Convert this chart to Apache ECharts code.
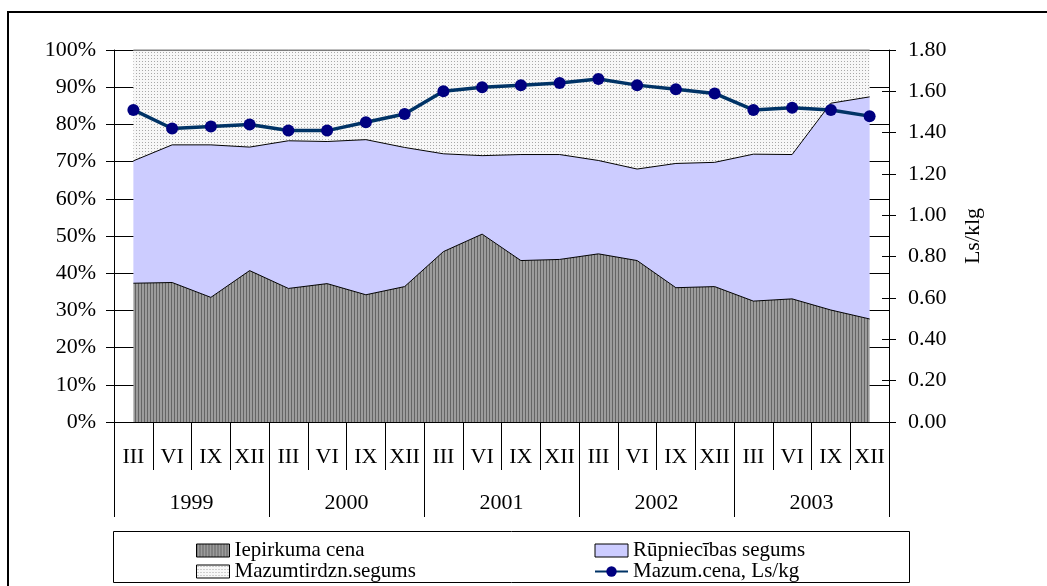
<!DOCTYPE html>
<html>
<head>
<meta charset="utf-8">
<script src="https://cdn.jsdelivr.net/npm/echarts@6/dist/echarts.min.js"></script>
<style>
html, body { margin: 0; padding: 0; background: #fff; }
#chart { width: 1047px; height: 586px; }
</style>
</head>
<body>
<div id="chart"></div>
<script>
// kvartāli un gadi
var quarters = ["III", "VI", "IX", "XII", "III", "VI", "IX", "XII", "III", "VI", "IX", "XII", "III", "VI", "IX", "XII", "III", "VI", "IX", "XII"];
var years = ["1999", "2000", "2001", "2002", "2003"];

// daļas cenā, %
var iepirkumaCena = [37.3, 37.5, 33.5, 40.7, 35.9, 37.2, 34.2, 36.4, 45.8, 50.5, 43.4, 43.7, 45.2, 43.4, 36.1, 36.4, 32.5, 33.1, 30.1, 27.7];
var rupniecibasSegums = [32.9, 37.0, 41.0, 33.2, 39.7, 38.2, 41.7, 37.4, 26.3, 21.1, 28.5, 28.2, 25.1, 24.6, 33.4, 33.4, 39.5, 38.8, 55.6, 59.7];
var mazumtirdznSegums = [29.8, 25.5, 25.5, 26.1, 24.4, 24.6, 24.1, 26.2, 27.9, 28.4, 28.1, 28.1, 29.7, 32.0, 30.5, 30.2, 28.0, 28.1, 14.3, 12.6];

// mazumtirdzniecības cena, Ls/kg
var mazumCena = [1.51, 1.42, 1.43, 1.44, 1.41, 1.41, 1.45, 1.49, 1.60, 1.62, 1.63, 1.64, 1.66, 1.63, 1.61, 1.59, 1.51, 1.52, 1.51, 1.48];

var fontFam = "Liberation Serif";

function makePattern(w, h, bg, dots) {
	var c = document.createElement("canvas");
	c.width = w;
	c.height = h;
	var ctx = c.getContext("2d");
	ctx.fillStyle = bg;
	ctx.fillRect(0, 0, w, h);
	dots.forEach(function (d) {
		ctx.fillStyle = d[2];
		ctx.fillRect(d[0], d[1], 1, 1);
	});
	return { image: c, repeat: "repeat" };
}

// vertikālas svītras un punktiņi
var stripes = makePattern(3, 1, "#9c9c9c", [[0, 0, "#646464"]]);
var dotted = makePattern(3, 3, "#f7f7f7", [[1, 1, "#a8a8a8"]]);
var lavender = "#ccccff";

var chart = echarts.init(document.getElementById("chart"));

var areaSeries = function (name, data, fill) {
	return {
		name: name,
		type: "line",
		stack: "total",
		data: data,
		xAxisIndex: 0,
		yAxisIndex: 0,
		showSymbol: false,
		symbol: "none",
		lineStyle: { color: "#000", width: 1 },
		itemStyle: { color: fill },
		areaStyle: { color: fill, opacity: 1 },
		silent: true,
	};
};

var legendText = { fontSize: 21, lineHeight: 18, color: "#000", fontFamily: fontFam };
var axisFont = { fontSize: 22, color: "#000", fontFamily: fontFam };

var option = {
	animation: false,
	backgroundColor: "#fff",
	textStyle: { fontFamily: fontFam, color: "#000" },
	grid: {
		left: 114,
		right: 158,
		top: 50,
		bottom: 164,
		containLabel: false,
	},
	legend: [
		{
			orient: "vertical",
			left: 196,
			top: 540,
			padding: 0,
			itemGap: 0,
			itemWidth: 33,
			itemHeight: 13,
			textStyle: legendText,
			data: [
				{ name: "Iepirkuma cena", icon: "rect", textStyle: legendText, itemStyle: { color: stripes, borderColor: "#000", borderWidth: 1 } },
				{ name: "Mazumtirdzn.segums", icon: "rect", textStyle: legendText, itemStyle: { color: dotted, borderColor: "#000", borderWidth: 1 } },
			],
		},
		{
			orient: "vertical",
			left: 594,
			top: 540,
			padding: 0,
			itemGap: 0,
			itemWidth: 33,
			itemHeight: 13,
			textStyle: legendText,
			data: [
				{ name: "Rūpniecības segums", icon: "rect", textStyle: legendText, itemStyle: { color: lavender, borderColor: "#000", borderWidth: 1 } },
				{ name: "Mazum.cena, Ls/kg", textStyle: legendText },
			],
		},
	],
	xAxis: [
		{
			type: "category",
			data: quarters,
			boundaryGap: true,
			axisLine: { show: true, lineStyle: { color: "#000", width: 1 } },
			axisTick: { show: true, interval: 0, length: 48, lineStyle: { color: "#000" } },
			axisLabel: Object.assign({ interval: 0, margin: 24 }, axisFont),
			splitLine: { show: false },
		},
		{
			type: "category",
			data: years,
			position: "bottom",
			boundaryGap: true,
			axisLine: { show: false },
			axisTick: { show: true, interval: 0, length: 95, lineStyle: { color: "#000" } },
			axisLabel: Object.assign({ interval: 0, margin: 70 }, axisFont),
			splitLine: { show: false },
		},
	],
	yAxis: [
		{
			type: "value",
			position: "left",
			min: 0,
			max: 100,
			interval: 10,
			axisLine: { show: true, lineStyle: { color: "#000" } },
			axisTick: { show: true, length: 8, lineStyle: { color: "#000" } },
			axisLabel: Object.assign({ margin: 18, formatter: "{value}%" }, axisFont),
			splitLine: { show: true, lineStyle: { color: "#000", width: 1 } },
		},
		{
			type: "value",
			position: "right",
			min: 0,
			max: 1.8,
			interval: 0.2,
			name: "Ls/klg",
			nameLocation: "middle",
			nameRotate: 90,
			nameGap: 73,
			nameTextStyle: axisFont,
			axisLine: { show: true, lineStyle: { color: "#000" } },
			axisTick: { show: true, length: 7, lineStyle: { color: "#000" } },
			axisLabel: Object.assign({
				margin: 19,
				formatter: function (v) {
					return v.toFixed(2);
				},
			}, axisFont),
			splitLine: { show: false },
		},
		{
			// iekšējās atzīmes labajai asij
			type: "value",
			position: "right",
			min: 0,
			max: 1.8,
			interval: 0.2,
			axisLine: { show: false },
			axisTick: { show: true, inside: true, length: 7, lineStyle: { color: "#000" } },
			axisLabel: { show: false },
			splitLine: { show: false },
		},
	],
	graphic: [
		{
			type: "rect",
			shape: { x: 8, y: 12, width: 1200, height: 800 },
			style: { fill: "none", stroke: "#000", lineWidth: 2 },
			silent: true,
		},
		{
			type: "rect",
			shape: { x: 113.5, y: 531.5, width: 796, height: 51 },
			style: { fill: "none", stroke: "#000", lineWidth: 1 },
			silent: true,
		},
	],
	series: [
		areaSeries("Iepirkuma cena", iepirkumaCena, stripes),
		areaSeries("Rūpniecības segums", rupniecibasSegums, lavender),
		areaSeries("Mazumtirdzn.segums", mazumtirdznSegums, dotted),
		{
			name: "Mazum.cena, Ls/kg",
			type: "line",
			data: mazumCena,
			xAxisIndex: 0,
			yAxisIndex: 1,
			symbol: "circle",
			symbolSize: 12,
			showSymbol: true,
			lineStyle: { color: "#003366", width: 3.5 },
			itemStyle: { color: "#000080" },
			z: 5,
		},
	],
};

chart.setOption(option, true);
window.addEventListener("resize", function () {
	chart.resize();
});
</script>
</body>
</html>
